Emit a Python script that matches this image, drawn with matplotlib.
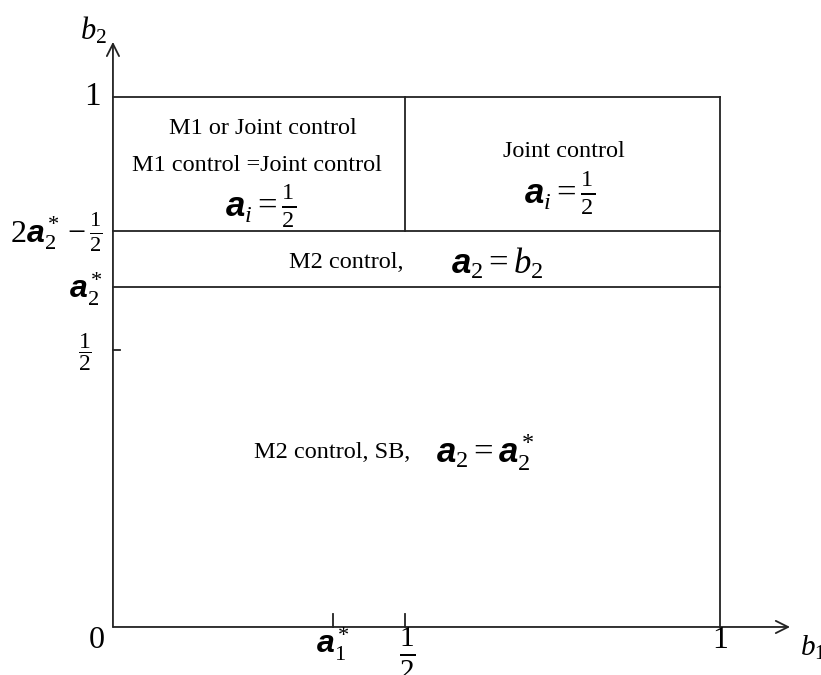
"""Region diagram in the (b1, b2) plane: who controls and the chosen a."""

import matplotlib

matplotlib.use("Agg")
import matplotlib.pyplot as plt

plt.rcParams["font.family"] = ["Liberation Serif", "DejaVu Serif"]
plt.rcParams["mathtext.fontset"] = "custom"
plt.rcParams["mathtext.rm"] = "Liberation Serif"
plt.rcParams["mathtext.it"] = "Liberation Serif:italic"
plt.rcParams["mathtext.bf"] = "Liberation Sans:bold:italic"

INK = "#222222"

# boundaries (drawn positions, not to exact scale)
A1_STAR = 0.362
X_HALF = 0.481
Y_HALF = 0.523
A2_STAR = 0.642
Y_TOP_BAND = 0.747

x_tick_pos = [A1_STAR, X_HALF]
x_tick_labels = [r"$\mathbf{a}_1^*$", r"$\frac{1}{2}$"]
y_tick_pos = [Y_HALF]
y_tick_labels = [r"$\dfrac{1}{2}$"]
y_side_pos = [1.0, Y_TOP_BAND, A2_STAR]
y_side_labels = ["1", r"$2\mathbf{a}_2^* - \frac{1}{2}$", r"$\mathbf{a}_2^*$"]

fig = plt.figure(figsize=(8.21, 6.75), dpi=100)
ax = fig.add_axes([0, 0, 1, 1])
ax.axis("off")
ax.set_xlim(-0.186, 1.166)
ax.set_ylim(-0.0906, 1.183)

lw = 1.3
# outer box and bands
ax.plot([0, 1], [1, 1], color=INK, lw=lw)
ax.plot([1, 1], [0, 1], color=INK, lw=lw)
ax.plot([0, 1], [Y_TOP_BAND, Y_TOP_BAND], color=INK, lw=lw)
ax.plot([0, 1], [A2_STAR, A2_STAR], color=INK, lw=lw)
ax.plot([X_HALF, X_HALF], [Y_TOP_BAND, 1], color=INK, lw=lw)

# axes with open arrow heads
ax.annotate("", xy=(1.115, 0), xytext=(0, 0),
            arrowprops=dict(arrowstyle="->", lw=lw, color=INK, mutation_scale=22, shrinkA=0, shrinkB=0))
ax.annotate("", xy=(0, 1.104), xytext=(0, 0),
            arrowprops=dict(arrowstyle="->", lw=lw, color=INK, mutation_scale=22, shrinkA=0, shrinkB=0))
ax.text(1.131, -0.04, r"$b_1$", fontsize=21, ha="left", va="center")
ax.text(-0.01, 1.125, r"$b_2$", fontsize=22, ha="right", va="center")

# ticks
for xp in x_tick_pos:
    ax.plot([xp, xp], [0, 0.024], color=INK, lw=lw)
for yp in y_tick_pos:
    ax.plot([0, 0.012], [yp, yp], color=INK, lw=lw)

ax.text(-0.027, -0.025, "0", fontsize=23, ha="center", va="center")
ax.text(1.0, -0.025, "1", fontsize=23, ha="center", va="center")
ax.text(A1_STAR, -0.033, x_tick_labels[0], fontsize=23, ha="center", va="center")
ax.text(X_HALF + 0.003, -0.05, x_tick_labels[1], fontsize=30, ha="center", va="center")

ax.text(-0.02, 1.0, y_side_labels[0], fontsize=24, ha="right", va="center")
ax.text(-0.017, Y_TOP_BAND - 0.003, y_side_labels[1], fontsize=23, ha="right", va="center")
ax.text(-0.017, A2_STAR - 0.005, y_side_labels[2], fontsize=23, ha="right", va="center")
ax.text(-0.046, Y_HALF - 0.005, y_tick_labels[0], fontsize=17, ha="center", va="center")

# region labels
ax.text(0.247, 0.941, "M1 or Joint control", fontsize=17.5, ha="center", va="center")
ax.text(0.237, 0.871, "M1 control =Joint control", fontsize=17.5, ha="center", va="center")
ax.text(0.243, 0.794, r"$\mathbf{a}_i = \frac{1}{2}$", fontsize=25, ha="center", va="center")
ax.text(0.743, 0.897, "Joint control", fontsize=17.5, ha="center", va="center")
ax.text(0.736, 0.819, r"$\mathbf{a}_i = \frac{1}{2}$", fontsize=25, ha="center", va="center")
ax.text(0.384, 0.687, "M2 control,", fontsize=17.5, ha="center", va="center")
ax.text(0.633, 0.685, r"$\mathbf{a}_2 = b_2$", fontsize=25, ha="center", va="center")
ax.text(0.361, 0.329, "M2 control, SB,", fontsize=17.5, ha="center", va="center")
ax.text(0.613, 0.331, r"$\mathbf{a}_2 = \mathbf{a}_2^*$", fontsize=25, ha="center", va="center")

fig.savefig("out.png", dpi=100, facecolor="white")
